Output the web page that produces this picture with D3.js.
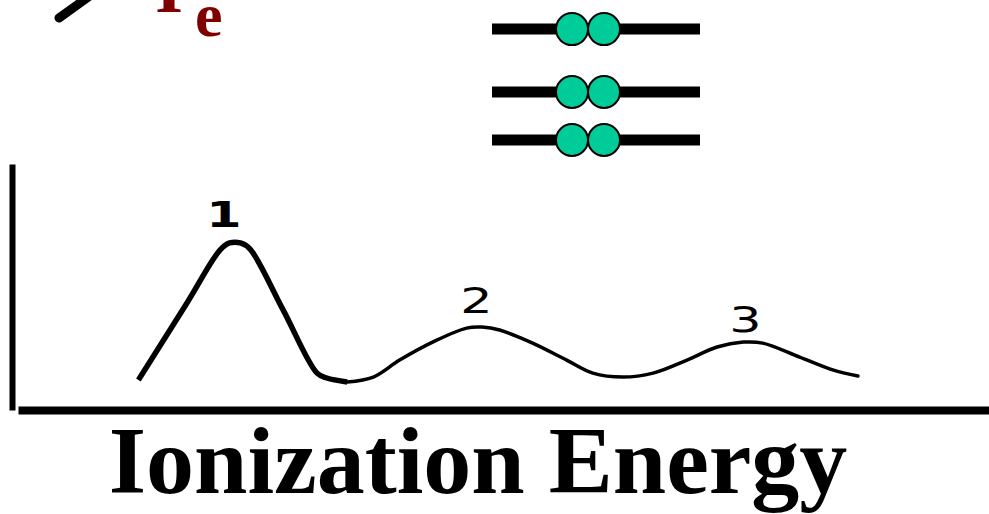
<!DOCTYPE html>
<html>
<head>
<meta charset="utf-8">
<script src="https://cdn.jsdelivr.net/npm/d3@7"></script>
<style>
  html, body { margin: 0; padding: 0; background: #fff; overflow: hidden; }
</style>
</head>
<body>
<div id="chart"></div>
<script>
// photoelectron spectrum: energy (x) vs signal (y), arbitrary units
const energy = [12.4, 17.4, 20.8, 21.8, 22.9, 23.9, 27.3, 30.8, 31.8, 33.9,
  36.6, 39.3, 42.7, 46.2, 47.8, 49.6, 53.0, 56.5, 59.2, 62.3,
  65.4, 68.9, 72.0, 74.7, 76.7, 80.5, 83.9, 86.5]
const signal = [12.2, 43.5, 65.0, 67.9, 67.9, 65.4, 40.7, 15.0, 13.0, 11.4,
  13.4, 20.3, 27.6, 33.3, 33.7, 32.5, 27.2, 20.3, 15.0, 13.4,
  15.0, 20.3, 25.6, 27.6, 27.2, 21.5, 16.3, 13.8]

// peak labels
const peakLabels = ['1', '2', '3']
const peakEnergy = [21.2, 47.2, 74.9]
const peakSignal = [74.4, 39.4, 31.7]

// orbital diagram: relative level energies, electrons per level
const levelEnergy = [0, 1, 2.31]
const electrons = [2, 2, 2]

const titleText = 'Ionization Energy'

const width = 989
const height = 514

const svg = d3.select('#chart')
  .append('svg')
  .attr('width', width)
  .attr('height', height)

const x = d3.scaleLinear().domain([0, 100]).range([18, 989])
const y = d3.scaleLinear().domain([0, 100]).range([410, 164])

// axes - just the domain lines, no ticks
const yAxis = svg.append('g')
  .attr('transform', 'translate(12,0)')
  .call(d3.axisLeft(y).ticks(0).tickSizeOuter(0))
yAxis.select('.domain').attr('stroke', '#000').attr('stroke-width', 6)

const xAxis = svg.append('g')
  .attr('transform', 'translate(0,410)')
  .call(d3.axisBottom(x).ticks(0).tickSizeOuter(0))
xAxis.select('.domain').attr('stroke', '#000').attr('stroke-width', 8)

// spectrum line, first peak drawn heavier
const pts = energy.map((e, i) => [e, signal[i]])
const line = d3.line()
  .x(d => x(d[0]))
  .y(d => y(d[1]))
  .curve(d3.curveCatmullRom.alpha(0.5))

svg.append('path')
  .datum(pts.slice(0, 10))
  .attr('d', line)
  .attr('fill', 'none')
  .attr('stroke', '#000')
  .attr('stroke-width', 5.5)
  .attr('stroke-linejoin', 'round')

svg.append('path')
  .datum(pts.slice(9))
  .attr('d', line)
  .attr('fill', 'none')
  .attr('stroke', '#000')
  .attr('stroke-width', 3.5)
  .attr('stroke-linejoin', 'round')
  .attr('stroke-linecap', 'round')

svg.selectAll('.peak-label')
  .data(peakLabels)
  .enter()
  .append('text')
  .attr('class', 'peak-label')
  .attr('transform', (d, i) => 'translate(' + x(peakEnergy[i]) + ',' + y(peakSignal[i]) + ') scale(1.45,1)')
  .attr('text-anchor', 'middle')
  .attr('font-family', 'DejaVu Sans, sans-serif')
  .attr('font-weight', (d, i) => i === 0 ? 'bold' : 'normal')
  .attr('font-size', 35)
  .text(d => d)

// orbital levels
const lvl = d3.scaleLinear().domain([0, 1]).range([140, 92])
const lineX0 = 492
const lineX1 = 700
const eR = 16

const levels = svg.selectAll('.level')
  .data(levelEnergy)
  .enter()
  .append('g')
  .attr('class', 'level')
  .attr('transform', d => 'translate(0,' + lvl(d) + ')')

levels.append('line')
  .attr('x1', lineX0)
  .attr('x2', lineX1)
  .attr('stroke', '#000')
  .attr('stroke-width', 11)

levels.selectAll('circle')
  .data((d, i) => d3.range(electrons[i]))
  .enter()
  .append('circle')
  .attr('cx', k => 572 + k * 32)
  .attr('cy', 0)
  .attr('r', eR)
  .attr('fill', '#00cc99')
  .attr('stroke', '#000')
  .attr('stroke-width', 2)

// top-left fragment: arrow stub and I_e symbol
svg.append('line')
  .attr('x1', 59).attr('y1', 18)
  .attr('x2', 98).attr('y2', -10)
  .attr('stroke', '#000')
  .attr('stroke-width', 9)
  .attr('stroke-linecap', 'round')

const sym = svg.append('text')
  .attr('font-family', 'Liberation Serif, Times New Roman, serif')
  .attr('font-weight', 'bold')
  .attr('fill', '#800000')
sym.append('tspan').attr('x', 155).attr('y', 12).attr('font-size', 72).text('I')
sym.append('tspan').attr('x', 195).attr('y', 36).attr('font-size', 62).text('e')

// title
svg.append('text')
  .attr('x', 478)
  .attr('y', 493)
  .attr('text-anchor', 'middle')
  .attr('font-family', 'Liberation Serif, Times New Roman, serif')
  .attr('font-weight', 'bold')
  .attr('font-size', 96)
  .text(titleText)
</script>
</body>
</html>
